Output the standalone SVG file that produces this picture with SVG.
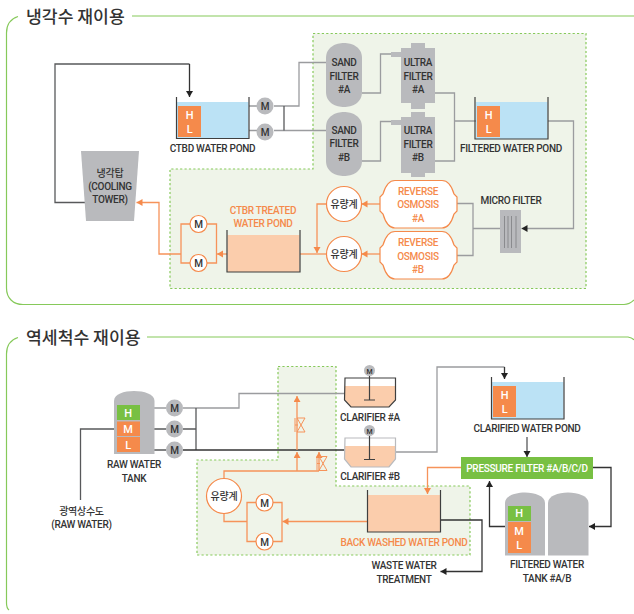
<svg xmlns="http://www.w3.org/2000/svg" width="634" height="614" viewBox="0 0 634 614">
<style>
text{font-family:"Roboto","Noto Sans CJK KR",sans-serif;font-weight:500;font-size:10px;text-anchor:middle;fill:#333;letter-spacing:-.28px}
.title{font-family:"Noto Sans CJK KR",sans-serif;font-size:17.2px;text-anchor:start;letter-spacing:0;fill:#333;font-weight:500}
.o{fill:#f58a4b}.w{fill:#fff;font-size:11px}
.frame{fill:none;stroke:#86c95a;stroke-width:1.2}
.zone{fill:#eff4e9;stroke:#86c95a;stroke-width:1.2;stroke-dasharray:2.2 2.2}
.g,.d,.k,.or{fill:none;stroke-width:1.3}
.g{stroke:#9b9c9f}.d{stroke:#58595b}.k{stroke:#333}.or{stroke:#f6935a;stroke-width:1.3}
.tank{fill:#b9babd}.wal{fill:none;stroke:#3f3f3f;stroke-width:1.2}
.blue{fill:#bbe2f5}.peach{fill:#fbcdac}.orect{fill:#f58a4b}.grect{fill:#78c043}
.pump{fill:#b9babd}.opump{fill:#fff;stroke:#f58a4b;stroke-width:1.2}
.ro{fill:#fff;stroke:#f58a4b;stroke-width:1.2}
</style>
<defs>
<marker id="ak" markerUnits="userSpaceOnUse" markerWidth="8" markerHeight="8" refX="6" refY="3.5" orient="auto"><path d="M0 0L6 3.5L0 7Z" fill="#222"/></marker>
<marker id="ao" markerUnits="userSpaceOnUse" markerWidth="8" markerHeight="8" refX="6" refY="3.5" orient="auto"><path d="M0 0L6 3.5L0 7Z" fill="#f58a4b"/></marker>
<g id="valve-shape"><path d="M-4-7L4 7M4-7L-4 7M-4-7H4M-4 7H4M-6-7V7M-6 0H-3" fill="none" stroke="#f6935a" stroke-width="1"/></g>
</defs>

<g id="frames">
<path class="frame" d="M132 16H634M18 16.500C10 19 6.500 24 6.500 33V288C6.500 298 13 304.500 23 304.500H624C628 304.500 631 303 634 300"/>
<path class="frame" d="M147 337H628Q632 337.500 634 340M18 337.500C10 340 6.500 345 6.500 354V603Q6.500 608 9 610"/>
<path class="zone" d="M313 33.500H586V288.500H170V169H313Z"/>
<path class="zone" d="M278 366.500H336V486H470V555H197V460H278Z"/>
<text class="title" x="26" y="23">냉각수 재이용</text>
<text class="title" x="26" y="344">역세척수 재이용</text>
</g>

<g id="connectors">
<path class="d" d="M85 202.500H55V64H189.500"/><path class="k" d="M189.500 64V97" marker-end="url(#ak)"/>
<path class="g" d="M249 106H257M274 106H299V62.500H326M249 130.500H257M274 130.500H326"/>
<path class="d" d="M284 106V130.500"/>
<path class="g" d="M362 93H380.500V54H391M362 161H380.500V121.500H391M435 93H454.500V161H435M454.500 121H476M548 121H573.500V228.500H521.500" marker-end="url(#ak)"/>
<path class="g" d="M500 228.500H473M457 203.500H473V255.500H457"/>
<path class="or" d="M380 204H361.500" marker-end="url(#ao)"/>
<path class="or" d="M380 254H361.500" marker-end="url(#ao)"/>
<path class="or" d="M327 204H317V253" marker-end="url(#ao)"/>
<path class="or" d="M327 254H300"/>
<path class="or" d="M227 254H217" marker-end="url(#ao)"/>
<path class="or" d="M190 224H216.500V263H190M190 224H181V263H190"/>
<path class="or" d="M181 254H159V202.500H136.500" marker-end="url(#ao)"/>

<path class="d" d="M114 429H80.500V500"/>
<path class="g" d="M154 408H166M183 408H239V393.500H345"/>
<path class="d" d="M154 429H166M183 429H196M154 450H166M196 408V450"/>
<path class="k" d="M183 450H344.500"/>
<path class="g" d="M395.500 452H437V367H504.500"/><path class="k" d="M504.500 367V379" marker-end="url(#ak)"/>
<path class="d" d="M527 437V457" marker-end="url(#ak)"/>
<path class="or" d="M461 467.500H427.500V494" marker-end="url(#ao)"/>
<path class="k" d="M593 467.500H611V526.500H589" marker-end="url(#ak)"/>
<path class="k" d="M505 526.500H489.500V481" marker-end="url(#ak)"/>
<path class="k" d="M440 520H482V571.500H440.500" marker-end="url(#ak)"/>
<path class="or" d="M367 521.500H282.500" marker-end="url(#ao)"/>
<path class="or" d="M256 502.500H247V541.500H256M273 502.500H282V541.500H273M247 521.500H224V514M224 478V471H319"/>
<path class="or" d="M297 471V452" marker-end="url(#ao)"/>
<path class="or" d="M297 450V396" marker-end="url(#ao)"/>
<path class="or" d="M319 471V452" marker-end="url(#ao)"/>
<use href="#valve-shape" x="301" y="425"/>
<use href="#valve-shape" x="323" y="463.500"/>
</g>

<g id="ctbd-pond">
<rect class="blue" x="177" y="102" width="71.500" height="36"/><rect class="orect" x="178" y="106" width="23" height="31"/>
<path class="wal" d="M176.500 97V138.500H249V97"/>
<text class="w" x="189.500" y="118.500">H</text><text class="w" x="189.500" y="133">L</text>
<text x="212.500" y="152">CTBD WATER POND</text>
</g>
<g id="pump-1"><circle class="pump" cx="265" cy="106" r="8.500"/><text x="265" y="110">M</text></g>
<g id="pump-2"><circle class="pump" cx="265" cy="132" r="8.500"/><text x="265" y="136">M</text></g>

<g id="cooling-tower">
<path class="tank" d="M81 151H139L134 221H86Z"/>
<text x="110" y="177">냉각탑</text><text x="110" y="190">(COOLING</text><text x="110" y="203">TOWER)</text>
</g>

<g id="sand-a"><path class="tank" d="M326 58C326 47 336 43 344 43S362 47 362 58V92C362 103 352 107 344 107S326 103 326 92Z"/>
<text x="344" y="66">SAND</text><text x="344" y="80">FILTER</text><text x="344" y="93">#A</text></g>
<g id="sand-b"><path class="tank" d="M326 127C326 116 336 112 344 112S362 116 362 127V161C362 172 352 176 344 176S326 172 326 161Z"/>
<text x="344" y="134">SAND</text><text x="344" y="147">FILTER</text><text x="344" y="161">#B</text></g>
<g id="ultra-a"><path class="tank" d="M411 43H425V48H435V103H425V109H411V103H401V57H391V52H401V48H411Z"/>
<text x="418" y="66">ULTRA</text><text x="418" y="80">FILTER</text><text x="418" y="93">#A</text></g>
<g id="ultra-b"><path class="tank" d="M411 112H425V117H435V173H425V177H411V173H401V125H391V120H401V117H411Z"/>
<text x="418" y="134">ULTRA</text><text x="418" y="148">FILTER</text><text x="418" y="161">#B</text></g>

<g id="filtered-pond">
<rect class="blue" x="476" y="102" width="71.500" height="37"/><rect class="orect" x="477" y="106" width="23" height="31"/>
<path class="wal" d="M475 97V139H548V97"/>
<text class="w" x="488.500" y="118.500">H</text><text class="w" x="488.500" y="132.500">L</text>
<text x="511" y="152">FILTERED WATER POND</text>
</g>

<g id="micro-filter">
<rect x="500" y="210" width="21" height="43" fill="#b9babd"/>
<path d="M504.500 216V248M508 216V248M511.500 216V248M516 216V248" stroke="#8a8b8e" stroke-width="1"/>
<text x="511" y="204">MICRO FILTER</text>
</g>

<g id="ro-a"><path class="ro" d="M395 180.500H442C448 180.500 452 187 454 194L457 197V211L454 214C452 221 448 228 442 228H395C389 228 385 221 383 214L380 211V197L383 194C385 187 389 180.500 395 180.500Z"/>
<text class="o" x="418" y="195">REVERSE</text><text class="o" x="418" y="208">OSMOSIS</text><text class="o" x="418" y="221.500">#A</text></g>
<g id="ro-b"><path class="ro" d="M395 231.500H442C448 231.500 452 238 454 245L457 248V262L454 265C452 272 448 279 442 279H395C389 279 385 272 383 265L380 262V248L383 245C385 238 389 231.500 395 231.500Z"/>
<text class="o" x="418" y="246">REVERSE</text><text class="o" x="418" y="259.500">OSMOSIS</text><text class="o" x="418" y="273">#B</text></g>

<g id="flow-a"><circle class="opump" cx="344" cy="204" r="17.500"/><text x="344" y="208">유량계</text></g>
<g id="flow-b"><circle class="opump" cx="344" cy="254" r="17.500"/><text x="344" y="258">유량계</text></g>

<g id="ctbr-pond">
<rect class="peach" x="227.500" y="235" width="72" height="37"/>
<path class="wal" d="M227 230V272H300V230"/>
<text class="o" x="263" y="214">CTBR TREATED</text><text class="o" x="263" y="227">WATER POND</text>
</g>
<g id="pump-3"><circle class="opump" cx="198.500" cy="224" r="8.500"/><text x="198.500" y="228">M</text></g>
<g id="pump-4"><circle class="opump" cx="198.500" cy="263" r="8.500"/><text x="198.500" y="267">M</text></g>

<g id="raw-tank">
<path class="tank" d="M114 401C114 394 124 391 134 391S154.500 394 154.500 401V454H114Z"/>
<rect class="grect" x="117" y="405" width="23" height="15"/><rect class="orect" x="117" y="421.500" width="23" height="14.500"/><rect class="orect" x="117" y="437" width="23" height="15"/>
<text class="w" x="128" y="416.500">H</text><text class="w" x="128" y="432.500">M</text><text class="w" x="128" y="448.500">L</text>
<text x="134" y="468">RAW WATER</text><text x="134" y="481.500">TANK</text>
</g>
<g id="pump-5"><circle class="pump" cx="174.500" cy="408" r="8.500"/><text x="174.500" y="412">M</text></g>
<g id="pump-6"><circle class="pump" cx="174.500" cy="429" r="8.500"/><text x="174.500" y="433">M</text></g>
<g id="pump-7"><circle class="pump" cx="174.500" cy="450" r="8.500"/><text x="174.500" y="454">M</text></g>
<g id="raw-source"><text x="81.500" y="514.500">광역상수도</text><text x="81.500" y="528">(RAW WATER)</text></g>

<g id="clarifier-a">
<path class="peach" d="M345 386H395V400L389 407H351L345 400Z"/>
<path class="wal" d="M345 378H395.500V400L389 407H351L344.500 400ZM369.500 375V400M364 400H375"/>
<circle class="pump" cx="369.500" cy="370.500" r="5.500"/><text x="369.500" y="373.500" style="font-size:7px">M</text>
<text x="370" y="421">CLARIFIER #A</text>
</g>
<g id="clarifier-b">
<path class="peach" d="M345 446H395V459L389 467H351L345 459Z"/>
<path d="M345 438H395.500V459L389 467H351L344.500 459Z" fill="none" stroke="#b9babd" stroke-width="1.200"/>
<path class="wal" d="M369.500 435V459.500M364 459.500H375"/>
<circle class="pump" cx="369.500" cy="430.500" r="5.500"/><text x="369.500" y="433.500" style="font-size:7px">M</text>
<text x="370" y="480">CLARIFIER #B</text>
</g>

<g id="clarified-pond">
<rect class="blue" x="492" y="382" width="71.500" height="37"/><rect class="orect" x="493" y="386" width="23" height="31"/>
<path class="wal" d="M491.500 377V419H564V377"/>
<text class="w" x="504.500" y="399">H</text><text class="w" x="504.500" y="413">L</text>
<text x="527" y="432">CLARIFIED WATER POND</text>
</g>

<g id="pressure-filter">
<rect class="grect" x="461" y="457" width="132" height="22"/>
<text x="527" y="472" style="fill:#fff">PRESSURE FILTER #A/B/C/D</text>
</g>

<g id="filtered-tank">
<path class="tank" d="M505 503C505 496 515 492.500 525 492.500S545 496 545 503V555.500H505Z"/>
<path class="tank" d="M548 503C548 496 558 492.500 568 492.500S588.500 496 588.500 503V555.500H548Z"/>
<rect class="grect" x="508" y="506" width="23" height="15"/><rect class="orect" x="508" y="522" width="23" height="31"/>
<text class="w" x="519" y="517">H</text><text class="w" x="519" y="535">M</text><text class="w" x="519" y="549">L</text>
<text x="547" y="568">FILTERED WATER</text><text x="547" y="582">TANK #A/B</text>
</g>

<g id="backwash-pond">
<rect class="peach" x="367.500" y="495" width="72.500" height="37"/>
<path class="wal" d="M367.500 490V532H440.500V490"/>
<text class="o" x="404" y="545.500">BACK WASHED WATER POND</text>
</g>
<g id="waste"><text x="404" y="568.500">WASTE WATER</text><text x="404" y="582.500">TREATMENT</text></g>

<g id="flow-c"><circle class="opump" cx="224" cy="496" r="17.500"/><text x="224" y="500">유량계</text></g>
<g id="pump-8"><circle class="opump" cx="264.500" cy="502.500" r="8.500"/><text x="264.500" y="506.500">M</text></g>
<g id="pump-9"><circle class="opump" cx="264.500" cy="541.500" r="8.500"/><text x="264.500" y="545.500">M</text></g>
</svg>
